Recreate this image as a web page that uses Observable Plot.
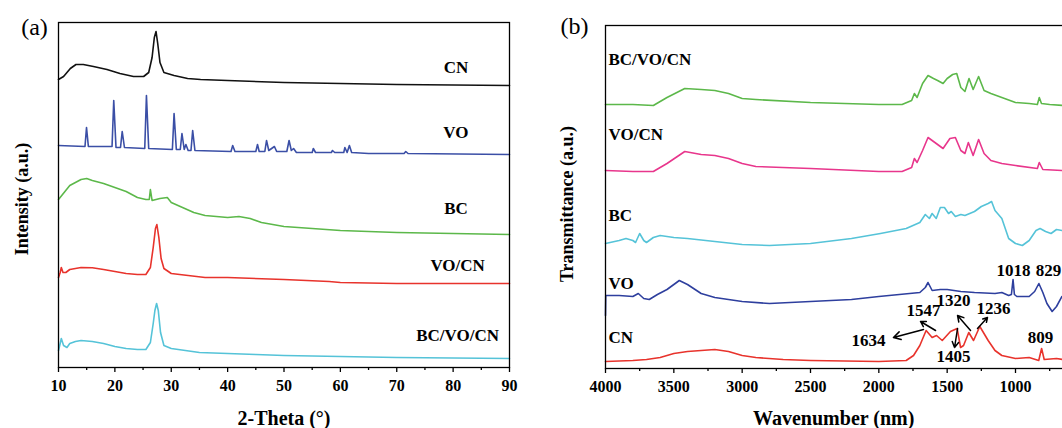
<!DOCTYPE html>
<html><head><meta charset="utf-8">
<script src="https://cdn.jsdelivr.net/npm/d3@7"></script>
<script src="https://cdn.jsdelivr.net/npm/@observablehq/plot@0.6"></script>
<style>
html,body{margin:0;padding:0;background:#fff;overflow:hidden}
#wrap{position:relative;width:1062px;height:428px;overflow:hidden;background:#fff}
#a{position:absolute;left:0;top:0;width:540px}
#b{position:absolute;left:540px;top:0;width:560px}
svg{max-width:none !important}
</style></head><body><div id="wrap"><div id="a"></div><div id="b"></div></div>
<script>
// ---------- Panel (a): XRD, [2-theta (deg), intensity (a.u.)] ----------
const xrdNames = ["CN", "VO", "BC", "VO/CN", "BC/VO/CN"];
const xrdColors = ["#111111", "#3b4fa6", "#5cb84a", "#e8332c", "#55c3d8"];
const xrdCN = [[10,288],[10.9,291],[12.1,299],[13.1,303],[14.4,303],[16.2,301],[18.6,298],[20.9,294],[23.3,291],[25.1,291],[26.0,295],[26.6,310],[27.0,330],[27.3,336],[27.6,324],[28.0,305],[28.7,295],[30.5,292],[32.9,289],[35.2,288],[40,287],[50,285],[60,284],[70,283],[90,282]];
const xrdVO = [[10,222],[14.7,221],[14.97,240],[15.3,221],[19.5,221],[19.8,267],[20.2,220],[21.0,220],[21.3,236],[21.7,220],[25.3,219],[25.6,272],[26.0,219],[30.2,218],[30.5,254],[30.9,218],[31.6,218],[31.9,234],[32.3,218],[32.6,223],[33.0,217],[33.5,217],[33.8,237],[34.2,217],[40.6,216],[40.9,222],[41.3,216],[45.0,216],[45.3,223],[45.6,216],[46.6,216],[46.9,227],[47.3,217],[48.3,221],[48.7,216],[50.5,216],[50.9,227],[51.3,217],[51.7,219],[52.2,215],[55.0,215],[55.2,219],[55.6,215],[58.4,215],[58.6,217],[59.0,215],[60.6,215],[60.8,220],[61.2,215],[61.6,222],[62.0,215],[65,214],[71.3,214],[71.6,216],[72,214],[90,213]];
const xrdBC = [[10,168],[11,175],[12,182],[13,185],[14,188],[15,189],[16,187],[18,184],[20,180],[22,176],[24,170],[25.5,168],[26.1,168],[26.3,178],[26.6,167],[28,169],[29.3,170],[30,165],[32,160],[34,155],[36,152],[38,151],[40,150],[42,151],[44,149],[46,145],[48,143],[50,141],[55,139],[60,137],[70,135],[80,134],[90,133]];
const xrdVOCN = [[10,90],[10.3,95],[10.5,100],[10.8,95],[11.3,95],[12,98],[14,100],[16,99.7],[18,98],[20,96],[22,94],[24,93],[25.5,93],[26.3,100],[26.8,120],[27.2,139],[27.45,143],[27.8,130],[28.2,109],[28.7,99],[30,94],[33,92],[36,90],[40,90],[50,88],[58,86],[60,85],[70,84],[90,84]];
const xrdBCVOCN = [[10,17],[10.3,24],[10.5,29],[10.9,22],[11.5,20],[12,24],[13,26],[14,27],[16,26],[18,24],[20,21],[21,20],[22,19],[24,18],[25.5,18],[26.3,25],[26.8,44],[27.1,57],[27.4,64],[27.7,57],[28.1,35],[28.7,22],[30,19],[35,15],[40,14],[45,13],[50,12],[60,11],[70,10],[90,9]];
const xrdSeries = [xrdCN, xrdVO, xrdBC, xrdVOCN, xrdBCVOCN];
const xrdLabelAt = [[80.5,300],[80.5,235],[80.5,159],[80.8,102],[80.8,32]];
const xrdTicks = [10,20,30,40,50,60,70,80,90];
const xrdMinor = [15,25,35,45,55,65,75,85];

// ---------- Panel (b): FTIR, [wavenumber, transmittance (a.u.)] ----------
const irNames = ["BC/VO/CN", "VO/CN", "BC", "VO", "CN"];
const irColors = ["#5cb84a", "#e8368c", "#55c3d8", "#2e3f9e", "#e8332c"];
const irBCVOCN = [[4000,264],[3800,264],[3650,263],[3550,271],[3420,280],[3300,279],[3200,278],[3100,275],[3000,270],[2900,269],[2500,266],[2000,264],[1830,264],[1760,268],[1740,275],[1720,271],[1680,285],[1640,293],[1600,290],[1570,288],[1530,285],[1500,290],[1460,294],[1430,295],[1400,281],[1370,277],[1340,290],[1310,279],[1270,292],[1230,278],[1180,275],[1100,271],[1000,266],[900,265],[840,264],[826,271],[810,265],[750,264],[650,263]];
const irVOCN = [[4000,198],[3800,197],[3650,197],[3550,205],[3420,217],[3300,214],[3200,213],[3100,210],[3000,205],[2900,202],[2500,200],[2000,197],[1830,197],[1760,201],[1740,210],[1720,206],[1680,218],[1640,231],[1580,225],[1530,220],[1480,230],[1440,231],[1400,218],[1370,215],[1345,226],[1310,213],[1270,229],[1230,215],[1180,208],[1100,205],[1000,203],[840,200],[826,206],[800,199],[660,198]];
const irBC = [[4000,125],[3900,128],[3850,130],[3800,128],[3780,126],[3750,135],[3720,128],[3700,126],[3650,131],[3600,133],[3500,131],[3400,130],[3200,127],[3000,124],[2800,123],[2500,125],[2200,130],[1988,135],[1800,140],[1700,146],[1660,154],[1630,150],[1610,155],[1580,150],[1550,161],[1520,161],[1490,155],[1470,157],[1440,152],[1400,154],[1370,153],[1300,157],[1250,162],[1200,165],[1175,167],[1150,158],[1100,150],[1050,130],[1000,125],[950,123],[900,128],[850,138],[820,140],[780,137],[740,135],[700,139],[660,138]];
const irVO = [[4000,53],[3998,73],[3900,73],[3800,72],[3760,75],[3720,70],[3680,69],[3620,74],[3550,79],[3460,88],[3400,84],[3300,75],[3200,71],[3000,67],[2800,65],[2500,67],[2200,69],[2000,72],[1700,76],[1660,81],[1640,86],[1610,78],[1550,79],[1500,79],[1400,77],[1300,76],[1150,75],[1100,76],[1050,73],[1030,74],[1018,89],[1008,74],[990,72],[900,72],[860,77],[829,85],[800,76],[770,65],[732,57],[700,62],[660,72]];
const irCN = [[4000,7],[3800,8],[3700,9],[3600,11],[3500,15],[3400,17],[3200,19],[3100,17],[3000,13],[2900,11],[2700,9],[2500,8],[2000,7],[1800,8],[1746,13],[1700,23],[1654,38],[1610,31],[1578,33],[1536,28],[1476,37],[1427,40],[1402,21],[1380,23],[1342,36],[1307,28],[1261,42],[1200,28],[1150,18],[1100,13],[1000,10],[900,11],[830,8],[809,20],[790,9],[700,10],[655,9]];
const irSeries = [irBCVOCN, irVOCN, irBC, irVO, irCN];
const irLabelAt = [[3978,309],[3978,234],[3978,153],[3978,85],[3978,31]];
const irPeakLabels = ["1547","1320","1236","1634","1405","1018","829","809"];
const irPeakLabelAt = [[1673,58],[1454,68],[1161,60],[2076,28],[1454,12],[1015,98],[759,98],[817,31]];
const irArrows = [[1673,39,1893,31],[1585,38,1695,47],[1329,38,1424,53],[1278,40,1205,51],[1424,40,1446,21]];
const irTicks = [4000,3500,3000,2500,2000,1500,1000];
const irMinor = [3750,3250,2750,2250,1750,1250,750];

const FONT = "'Liberation Serif','Times New Roman',serif";

function rows(series, names) {
  return series.flatMap((s, i) => s.map(([x, y]) => ({x, y, name: names[i]})));
}

const plotA = Plot.plot({
  width: 540, height: 428,
  marginLeft: 58, marginRight: 31, marginTop: 22, marginBottom: 61,
  style: {fontFamily: FONT, color: "#000", background: "#fff", overflow: "visible", maxWidth: "none"},
  x: {domain: [10, 90]},
  y: {domain: [0, 345], axis: null},
  color: {domain: xrdNames, range: xrdColors},
  marks: [
    Plot.line(rows(xrdSeries, xrdNames), {x: "x", y: "y", z: "name", stroke: "name", strokeWidth: 1.6}),
    Plot.frame({stroke: "#000", strokeWidth: 1.3}),
    Plot.axisX(xrdTicks, {tickSize: 5, tickPadding: 7, fontSize: 16, fontWeight: "bold", label: null, strokeWidth: 1.3, tickFormat: d => String(d)}),
    Plot.axisX(xrdMinor, {tickSize: 3, tickFormat: () => "", label: null, strokeWidth: 1.3}),
    Plot.text(xrdNames, {x: (d, i) => xrdLabelAt[i][0], y: (d, i) => xrdLabelAt[i][1], text: d => d, fontSize: 17, fontWeight: "bold", fill: "#000"}),
    Plot.text(["2-Theta (°)"], {frameAnchor: "bottom", lineAnchor: "middle", textAnchor: "middle", dy: 51, fontSize: 20, fontWeight: "bold", fill: "#000"}),
    Plot.text(["Intensity (a.u.)"], {frameAnchor: "left", lineAnchor: "middle", textAnchor: "middle", dx: -36, dy: 4, rotate: -90, fontSize: 18, fontWeight: "bold", fill: "#000"}),
    Plot.text(["(a)"], {frameAnchor: "top-left", lineAnchor: "middle", textAnchor: "middle", dx: -24, dy: 5, fontSize: 24, fill: "#000"})
  ]
});
document.getElementById("a").appendChild(plotA);

const plotB = Plot.plot({
  width: 560, height: 428,
  marginLeft: 65, marginRight: 3, marginTop: 25, marginBottom: 60,
  style: {fontFamily: FONT, color: "#000", background: "#fff", overflow: "visible", maxWidth: "none"},
  x: {domain: [4000, 400]},
  y: {domain: [0, 343], axis: null},
  color: {domain: irNames, range: irColors},
  marks: [
    Plot.line(rows(irSeries, irNames), {x: "x", y: "y", z: "name", stroke: "name", strokeWidth: 1.6}),
    Plot.frame({stroke: "#000", strokeWidth: 1.3}),
    Plot.axisX(irTicks, {tickSize: 5, tickPadding: 7, fontSize: 16, fontWeight: "bold", label: null, strokeWidth: 1.3, tickFormat: d => String(d)}),
    Plot.axisX(irMinor, {tickSize: 3, tickFormat: () => "", label: null, strokeWidth: 1.3}),
    Plot.text(irNames, {x: (d, i) => irLabelAt[i][0], y: (d, i) => irLabelAt[i][1], text: d => d, textAnchor: "start", fontSize: 17, fontWeight: "bold", fill: "#000"}),
    Plot.text(irPeakLabels, {x: (d, i) => irPeakLabelAt[i][0], y: (d, i) => irPeakLabelAt[i][1], text: d => d, fontSize: 17, fontWeight: "bold", fill: "#000"}),
    Plot.arrow(irArrows, {x1: d => d[0], y1: d => d[1], x2: d => d[2], y2: d => d[3], stroke: "#000", strokeWidth: 1.5, headLength: 8}),
    Plot.text(["Wavenumber (nm)"], {x: [2330], frameAnchor: "bottom", lineAnchor: "middle", textAnchor: "middle", dy: 50, fontSize: 20, fontWeight: "bold", fill: "#000"}),
    Plot.text(["Transmittance (a.u.)"], {frameAnchor: "left", lineAnchor: "middle", textAnchor: "middle", dx: -38, dy: 7, rotate: -90, fontSize: 18, fontWeight: "bold", fill: "#000"}),
    Plot.text(["(b)"], {frameAnchor: "top-left", lineAnchor: "middle", textAnchor: "middle", dx: -31, dy: 1, fontSize: 24, fill: "#000"})
  ]
});
document.getElementById("b").appendChild(plotB);
</script></body></html>
